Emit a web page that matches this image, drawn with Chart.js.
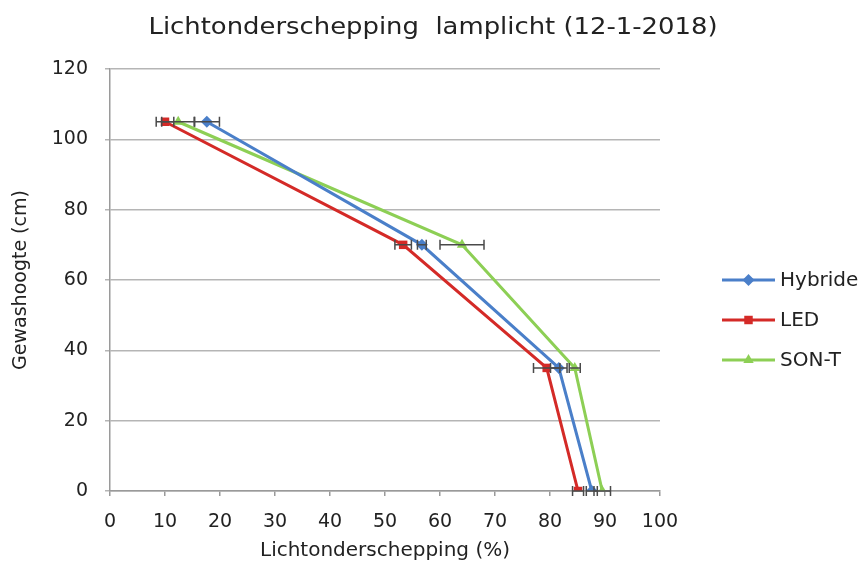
<!DOCTYPE html>
<html>
<head>
<meta charset="utf-8">
<script src="https://cdn.jsdelivr.net/npm/chart.js@4/dist/chart.umd.min.js"></script>
<style>
html,body{margin:0;padding:0;background:#fff;}
#wrap{position:relative;width:868px;height:565px;}
</style>
</head>
<body>
<div id="wrap"><canvas id="c" width="868" height="565"></canvas></div>
<script>
const chartTitle = 'Lichtonderschepping  lamplicht (12-1-2018)';
const xTitle = 'Lichtonderschepping (%)';
const yTitle = 'Gewashoogte (cm)';
const seriesNames = ['Hybride', 'LED', 'SON-T'];
const heights = [0, 35, 70, 105];
const hybride = [87.6, 81.6, 56.7, 17.6];
const led = [85.1, 79.4, 53.3, 10.0];
const sont = [89.5, 84.5, 64.0, 12.4];
const hybrideErr = [1.0, 1.5, 0.8, 2.3];
const ledErr = [1.0, 2.4, 1.5, 1.6];
const sontErr = [1.5, 1.0, 4.0, 3.0];

const colors = ['#4a7fc9', '#d42a27', '#8dcf55'];
const styles = ['rectRot', 'rect', 'triangle'];
const values = [hybride, led, sont];
const errs = [hybrideErr, ledErr, sontErr];

const FONT = "'DejaVu Sans', 'Liberation Sans', sans-serif";
const TXT = '#222222';

const datasets = seriesNames.map((name, i) => ({
  label: name,
  data: heights.map((h, j) => ({x: values[i][j], y: h})),
  errs: errs[i],
  borderColor: colors[i],
  backgroundColor: colors[i],
  borderWidth: 3,
  pointStyle: styles[i],
  pointRadius: 6,
  pointBorderWidth: 0,
  showLine: true,
  tension: 0,
  fill: false
}));

const errorBars = {
  id: 'errorBars',
  afterDatasetsDraw(chart) {
    const ctx = chart.ctx;
    const xs = chart.scales.x, ys = chart.scales.y;
    ctx.save();
    ctx.strokeStyle = '#4a4a4a';
    ctx.lineWidth = 1.5;
    chart.data.datasets.forEach(ds => {
      ds.data.forEach((p, j) => {
        const e = ds.errs[j];
        const x1 = xs.getPixelForValue(p.x - e), x2 = xs.getPixelForValue(p.x + e);
        const y = ys.getPixelForValue(p.y);
        ctx.beginPath();
        ctx.moveTo(x1, y); ctx.lineTo(x2, y);
        ctx.moveTo(x1, y - 5); ctx.lineTo(x1, y + 5);
        ctx.moveTo(x2, y - 5); ctx.lineTo(x2, y + 5);
        ctx.stroke();
      });
    });
    ctx.restore();
  }
};

const titleAndLegend = {
  id: 'titleAndLegend',
  afterDraw(chart) {
    const ctx = chart.ctx;
    ctx.save();
    ctx.fillStyle = TXT;
    ctx.font = '23px ' + FONT;
    ctx.textAlign = 'center';
    ctx.textBaseline = 'middle';
    const w = ctx.measureText(chartTitle).width;
    const sx = 569 / w;
    ctx.save();
    ctx.translate(433, 28);
    ctx.scale(sx, 1);
    ctx.fillText(chartTitle, 0, 0);
    ctx.restore();
    ctx.textAlign = 'left';
    const x0 = 722, lineLen = 53;
    chart.data.datasets.forEach((ds, i) => {
      const y = 280 + i * 40;
      ctx.strokeStyle = ds.borderColor;
      ctx.lineWidth = 3;
      ctx.beginPath(); ctx.moveTo(x0, y); ctx.lineTo(x0 + lineLen, y); ctx.stroke();
      ctx.fillStyle = ds.backgroundColor;
      Chart.helpers.drawPoint(ctx, {pointStyle: ds.pointStyle, radius: 6, rotation: 0, borderWidth: 0}, x0 + lineLen / 2, y);
      ctx.fillStyle = TXT;
      ctx.font = '20px ' + FONT;
      ctx.textBaseline = 'middle';
      ctx.fillText(ds.label, 780, y + 1);
    });
    ctx.restore();
  }
};

new Chart(document.getElementById('c'), {
  type: 'scatter',
  data: {datasets},
  plugins: [errorBars, titleAndLegend],
  options: {
    responsive: false,
    animation: false,
    layout: {padding: {left: 0, right: 208, top: 69, bottom: 0}},
    plugins: {
      legend: {display: false},
      tooltip: {enabled: false},
      title: {display: false}
    },
    scales: {
      x: {
        type: 'linear',
        min: 0, max: 100,
        afterFit: s => { s.height = 74; },
        ticks: {stepSize: 10, color: TXT, font: {family: FONT, size: 19}, padding: 15},
        grid: {display: true, drawOnChartArea: false, drawTicks: true, tickLength: 5, color: '#9a9a9a', lineWidth: 1.5},
        border: {color: '#9a9a9a', width: 1.5},
        title: {display: true, text: xTitle, color: TXT, font: {family: FONT, size: 20}, padding: {top: 0, bottom: 2}}
      },
      y: {
        type: 'linear',
        min: 0, max: 120,
        afterFit: s => { s.width = 110; },
        ticks: {stepSize: 20, color: TXT, font: {family: FONT, size: 19}, padding: 17},
        grid: {color: '#b5b5b5', lineWidth: 1.5, drawTicks: true, tickLength: 5},
        border: {color: '#9a9a9a', width: 1.5},
        title: {display: true, text: yTitle, color: TXT, font: {family: FONT, size: 19}, padding: {top: 10, bottom: 0}}
      }
    }
  }
});
</script>
</body>
</html>
